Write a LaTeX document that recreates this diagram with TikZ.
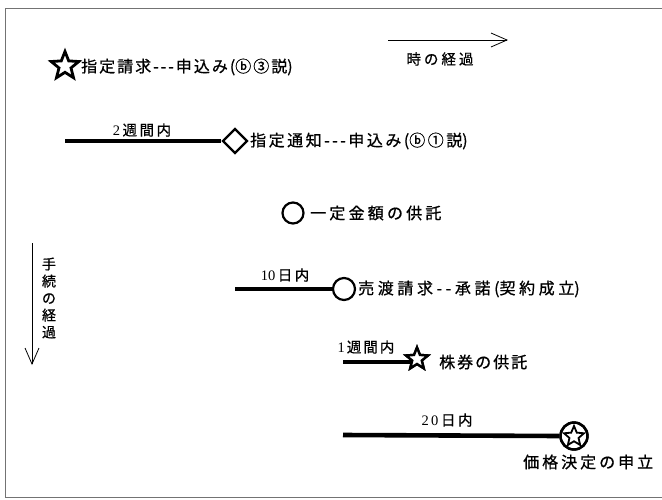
\documentclass[tikz,border=0pt]{standalone}
\usepackage{fontspec}
\setmainfont{Liberation Serif}
\newfontfamily\jp[FakeBold=0.8]{Noto Sans CJK JP}
\usetikzlibrary{shapes.geometric,arrows.meta}
\newcommand\g{\kern\tgap}
\newdimen\tgap
\tikzset{
  x=1pt, y=-1pt,
  frameline/.style={draw=black!55, line width=1pt},
  thickline/.style={line width=4.6pt},
  thinarrow/.style={line width=0.8pt, -{Straight Barb[length=16pt,width=14pt,line width=0.8pt]}},
  starmark/.style={star, star points=5, star point ratio=2.3, draw, line width=2.8pt, minimum size=29pt, inner sep=0pt},
  diamark/.style={diamond, draw, line width=2.4pt, minimum size=25pt, inner sep=0pt, fill=white},
  circmark/.style={circle, draw, line width=2.2pt, minimum size=21pt, inner sep=0pt, fill=white},
  txt/.style={font=\jp\fontsize{16pt}{18pt}\selectfont, inner sep=0pt, anchor=west},
  lbl/.style={font=\jp\fontsize{14.5pt}{16pt}\selectfont, inner sep=0pt},
  gap/.style={execute at begin node={\global\tgap=#1pt}},
}
\begin{document}
\begin{tikzpicture}
\useasboundingbox (0,0) rectangle (662,499);
% frame
\draw[frameline] (5,497) -- (5,8) -- (662,8);
\draw[frameline] (5,497) -- (662,497);

% time arrow
\coordinate (ta) at (388,40);
\coordinate (tb) at (508,40);
\draw[thinarrow] (ta) -- (tb);
\node[lbl, gap=3] (tlbl) at (440,59) {時\g の\g 経\g 過};

% procedure arrow
\coordinate (pa) at (32,243);
\coordinate (pb) at (32,365);
\draw[thinarrow] (pa) -- (pb);
\node[lbl, align=center, font=\jp\fontsize{14pt}{17pt}\selectfont] (plbl) at (49,298) {手\\続\\の\\経\\過};

% 1: star
\node[starmark] (s1) at (65,66) {};
\node[txt, gap=2] (t1) at (81,67) {指\g 定\g 請\g 求\g -\g -\g -\g 申\g 込\g み\g (ⓑ\g ③\g 説)};

% 2: diamond
\coordinate (l2) at (65,141);
\node[diamark] (d2) at (235,141) {};
\draw[thickline] (l2) -- (d2.west);
\node[lbl, gap=2.5] (w2) at (142,130) {\rmfamily 2\jp\g 週\g 間\g 内};
\node[txt, gap=2.5] (t2) at (250,141) {指\g 定\g 通\g 知\g -\g -\g -\g 申\g 込\g み\g (ⓑ\g ①\g 説)};

% 3: circle
\node[circmark] (c3) at (293,213) {};
\node[txt, gap=3.2] (t3) at (310,213) {一\g 定\g 金\g 額\g の\g 供\g 託};

% 4: circle
\coordinate (l4) at (235,289);
\node[circmark, minimum size=22pt] (c4) at (344,289) {};
\draw[thickline] (l4) -- (c4.west);
\node[lbl, gap=2.5] (w4) at (285,275) {\rmfamily 10\jp\g 日\g 内};
\node[txt, gap=3.6] (t4) at (358,289) {売\g 渡\g 請\g 求\g -\g -\g 承\g 諾\g (契\g 約\g 成\g 立)};

% 5: star
\coordinate (l5) at (343,362);
\node[starmark, minimum size=23pt, line width=2.4pt] (s5) at (417,359) {};
\draw[thickline] (l5) -- (l5 -| s5.center);
\node[starmark, minimum size=23pt, line width=2.4pt, fill=white] at (417,359) {};
\node[lbl, gap=2] (w5) at (366,347) {\rmfamily 1\jp\g 週\g 間\g 内};
\node[txt, gap=2] (t5) at (439,362) {株\g 券\g の\g 供\g 託};

% 6: circled star
\coordinate (l6) at (343,435);
\node[circle, draw, line width=2.4pt, minimum size=27pt, inner sep=0pt, fill=white] (c6) at (574,436) {};
\draw[thickline] (l6) -- (c6.west);
\node[circle, draw, line width=2.4pt, minimum size=27pt, inner sep=0pt] at (574,436) {};
\node[star, star points=5, star point ratio=2.2, draw, line width=1.8pt, minimum size=21pt, inner sep=0pt] (s6) at (574,436.5) {};
\node[lbl, gap=2.5] (w6) at (447,420) {\rmfamily 2\g 0\jp\g 日\g 内};
\node[txt, gap=3] (t6) at (523,462) {価\g 格\g 決\g 定\g の\g 申\g 立};
\end{tikzpicture}
\end{document}
